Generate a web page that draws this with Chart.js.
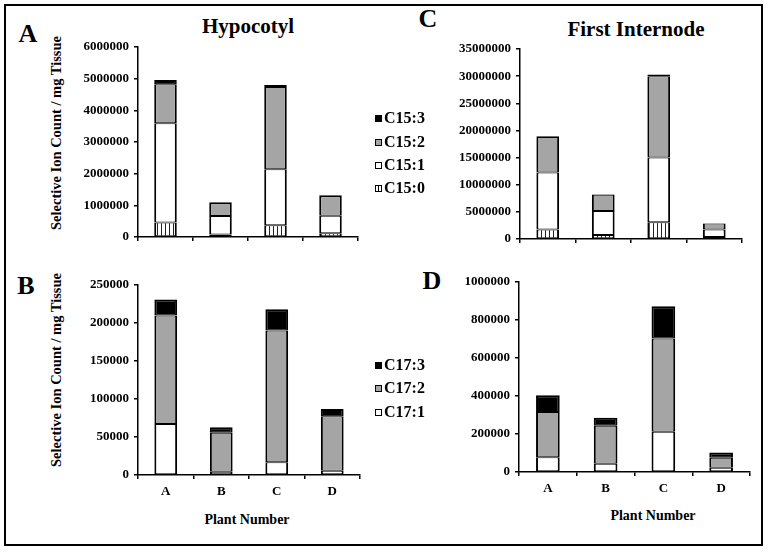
<!DOCTYPE html>
<html>
<head>
<meta charset="utf-8">
<script src="https://cdn.jsdelivr.net/npm/chart.js@4.4.1/dist/chart.umd.min.js"></script>
<style>
  html, body { margin: 0; padding: 0; background: #fff; }
  #fig { position: relative; width: 768px; height: 552px; overflow: hidden; background: #fff;
         font-family: 'Liberation Serif', 'Times New Roman', serif; font-weight: bold; color: #000; }
  #frame { position: absolute; left: 4px; top: 4px; width: 759px; height: 542px; box-sizing: border-box; border: 2px solid #000; }
  canvas { position: absolute; display: block; }
  .txt { position: absolute; white-space: nowrap; line-height: 1; transform: translate(-50%, -50%); }
  .letter { font-size: 26px; }
  .title { font-size: 21px; }
  .ytitle { font-size: 14.5px; transform: translate(-50%, -50%) rotate(-90deg); }
  .xtitle { font-size: 14px; }
  .lg { position: absolute; font-size: 16px; line-height: 1; display: flex; align-items: center; white-space: nowrap; transform: translateY(-50%); }
  .sw { width: 5px; height: 5px; border: 1px solid #000; margin-right: 2px; }
</style>
</head>
<body>
<div id="fig">
  <div id="frame"></div>

  <div class="txt letter" style="left:28px;top:34px">A</div>
  <div class="txt letter" style="left:428px;top:19px">C</div>
  <div class="txt letter" style="left:26px;top:286px">B</div>
  <div class="txt letter" style="left:432px;top:281px">D</div>

  <div class="txt title" style="left:248px;top:26px">Hypocotyl</div>
  <div class="txt title" style="left:636px;top:29px">First Internode</div>

  <div class="txt ytitle" style="left:56px;top:133px">Selective Ion Count / mg Tissue</div>
  <div class="txt ytitle" style="left:56px;top:370px">Selective Ion Count / mg Tissue</div>

  <div class="txt xtitle" style="left:247px;top:520px">Plant Number</div>
  <div class="txt xtitle" style="left:653px;top:516px">Plant Number</div>

  <canvas id="hypC15" width="324" height="208" style="left:40px;top:39px"></canvas>
  <canvas id="intC15" width="328" height="208" style="left:420px;top:41px"></canvas>
  <canvas id="hypC17" width="326" height="226" style="left:40px;top:277px"></canvas>
  <canvas id="intC17" width="337" height="226" style="left:419px;top:274px"></canvas>
</div>

<script>
// categories
const plants = ['A', 'B', 'C', 'D'];

// series names (stack order, bottom first)
const c15Names = ['C15:0', 'C15:1', 'C15:2', 'C15:3'];
const c17Names = ['C17:1', 'C17:2', 'C17:3'];

// Hypocotyl, C15 species
const hypC15_0 = [460000, 80000, 370000, 120000];
const hypC15_1 = [3130000, 580000, 1770000, 550000];
const hypC15_2 = [1230000, 440000, 2600000, 650000];
const hypC15_3 = [140000, 0, 60000, 0];

// First internode, C15 species
const intC15_0 = [1750000, 750000, 3100000, 370000];
const intC15_1 = [10500000, 4430000, 11900000, 1370000];
const intC15_2 = [6550000, 2950000, 15000000, 1110000];
const intC15_3 = [150000, 100000, 300000, 60000];

// Hypocotyl, C17 species
const hypC17_1 = [67000, 4400, 16700, 5700];
const hypC17_2 = [143000, 51300, 173300, 71500];
const hypC17_3 = [21000, 7000, 28000, 9600];

// First internode, C17 species
const intC17_1 = [77000, 44000, 212000, 23000];
const intC17_2 = [239000, 200000, 491000, 52000];
const intC17_3 = [88000, 42000, 170000, 28000];

// y axis ranges [max, step]
const hypC15Axis = [6000000, 1000000];
const intC15Axis = [35000000, 5000000];
const hypC17Axis = [250000, 50000];
const intC17Axis = [1000000, 200000];

const GREY = '#a5a5a5';
const serif = "'Liberation Serif', 'Times New Roman', serif";

// vertical hatch used for the saturated C15:0 segment
function hatch() {
  const c = document.createElement('canvas');
  c.width = 4; c.height = 4;
  const ctx = c.getContext('2d');
  ctx.fillStyle = '#fff';
  ctx.fillRect(0, 0, 4, 4);
  ctx.fillStyle = '#222';
  ctx.fillRect(1, 0, 1, 4);
  return ctx.createPattern(c, 'repeat');
}

const c15Fills = [hatch(), '#fff', GREY, '#000'];
const c17Fills = ['#fff', GREY, '#000'];

function series(names, fills, values) {
  return values.map((data, i) => ({ label: names[i], data, backgroundColor: fills[i] }));
}

// thicker top edge only on the uppermost non-empty segment of each stack
function segmentBorder(ctx) {
  const sets = ctx.chart.data.datasets;
  let top = true;
  for (let j = ctx.datasetIndex + 1; j < sets.length; j++) {
    if (sets[j].data[ctx.dataIndex] > 0) top = false;
  }
  return { top: top ? 2 : 1, bottom: 1, left: 2, right: 2 };
}

function stackedBar(canvasId, datasets, axis, showLabels, yWidth, xHeight) {
  const font = { family: serif, weight: 'bold', size: 13 };
  return new Chart(document.getElementById(canvasId), {
    type: 'bar',
    data: { labels: plants, datasets },
    options: {
      responsive: false,
      animation: false,
      devicePixelRatio: 1,
      layout: { padding: { top: 8, right: 6, left: 0, bottom: 0 } },
      plugins: { legend: { display: false }, tooltip: { enabled: false } },
      datasets: {
        bar: {
          barPercentage: 0.41,
          categoryPercentage: 1,
          borderColor: '#000',
          borderWidth: segmentBorder,
          borderSkipped: false
        }
      },
      scales: {
        x: {
          stacked: true,
          grid: { drawOnChartArea: false, tickLength: 4, color: '#000', lineWidth: 1.5 },
          border: { color: '#000', width: 1.5 },
          ticks: { display: showLabels, font, color: '#000', padding: 5, maxRotation: 0 },
          afterFit: (s) => { s.height = xHeight; s.paddingLeft = 0; s.paddingRight = 0; }
        },
        y: {
          stacked: true,
          min: 0,
          max: axis[0],
          grid: { drawOnChartArea: false, tickLength: 4, color: '#000', lineWidth: 1.5 },
          border: { color: '#000', width: 1.5 },
          ticks: { stepSize: axis[1], font, color: '#000', padding: 5, callback: (v) => String(v) },
          afterFit: (s) => { s.width = yWidth; s.paddingTop = 0; s.paddingBottom = 0; }
        }
      }
    }
  });
}

function legend(names, fills, x, ys) {
  const fig = document.getElementById('fig');
  names.forEach((name, i) => {
    const row = document.createElement('div');
    row.className = 'lg';
    row.style.left = x + 'px';
    row.style.top = ys[i] + 'px';
    const sw = document.createElement('span');
    sw.className = 'sw';
    sw.style.background = name === 'C15:0'
      ? 'repeating-linear-gradient(90deg, #fff 0 2px, #000 2px 3px)'
      : fills[i];
    row.appendChild(sw);
    row.appendChild(document.createTextNode(name));
    fig.appendChild(row);
  });
}

stackedBar('hypC15', series(c15Names, c15Fills, [hypC15_0, hypC15_1, hypC15_2, hypC15_3]), hypC15Axis, false, 98, 10);
stackedBar('intC15', series(c15Names, c15Fills, [intC15_0, intC15_1, intC15_2, intC15_3]), intC15Axis, false, 100, 10);
stackedBar('hypC17', series(c17Names, c17Fills, [hypC17_1, hypC17_2, hypC17_3]), hypC17Axis, true, 98, 28);
stackedBar('intC17', series(c17Names, c17Fills, [intC17_1, intC17_2, intC17_3]), intC17Axis, true, 100, 28);

// legends listed top-down, highest unsaturation first
legend(c15Names.slice().reverse(), c15Fills.slice().reverse(), 375, [118, 142, 165, 188]);
legend(c17Names.slice().reverse(), c17Fills.slice().reverse(), 375, [365, 388, 412]);
</script>
</body>
</html>
